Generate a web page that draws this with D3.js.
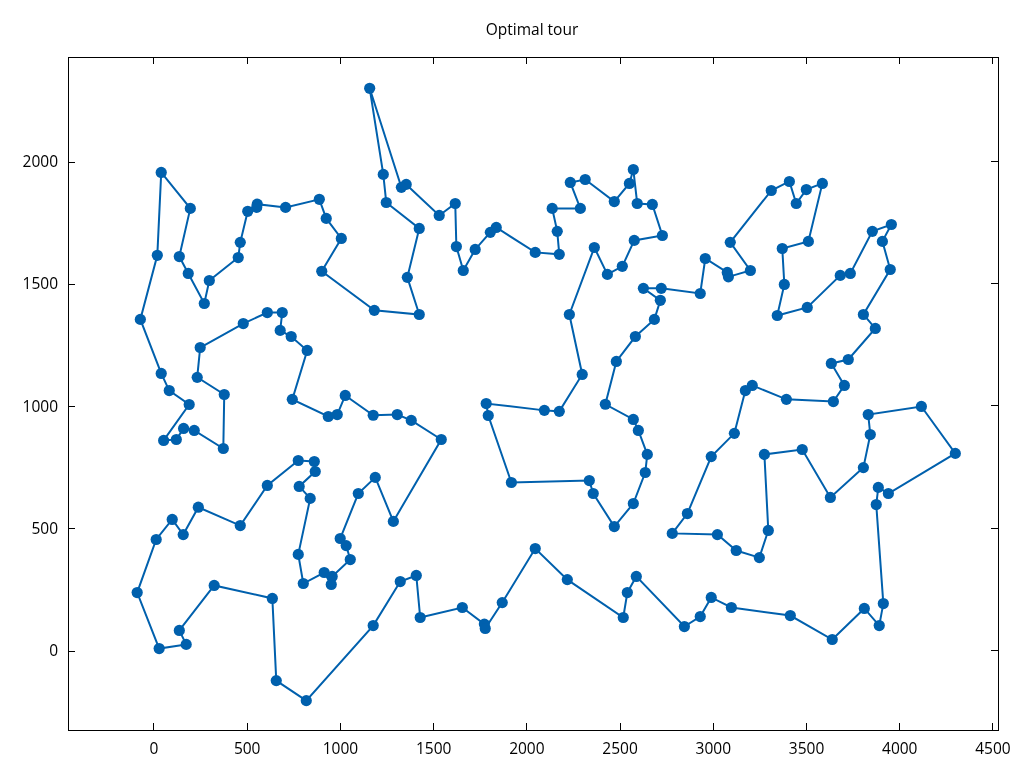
<!DOCTYPE html>
<html>
<head>
<meta charset="utf-8">
<script src="https://d3js.org/d3.v7.min.js"></script>
<style>
    html, body { margin: 0; padding: 0; background: #fff; }
    svg { will-change: transform; }
    text { font-family: "Open Sans", sans-serif; font-weight: 400; font-size: 15.5px; fill: #000; }
</style>
</head>
<body>
<div id="chart"></div>
<script>
const chartTitle = "Optimal tour";
const xTicks = [0, 500, 1000, 1500, 2000, 2500, 3000, 3500, 4000, 4500];
const yTicks = [0, 500, 1000, 1500, 2000];

// city coordinates, in visiting order
const tourX = [1157, 1230, 1246, 1423, 1359, 1423, 1182, 900, 1005, 924,
    887, 706, 554, 551, 503, 463, 452, 297, 270, 184,
    136, 195, 39, 18, -73, 39, 82, 189, 52, 120,
    159, 216, 372, 377, 232, 248, 479, 608, 688, 677,
    736, 822, 742, 935, 983, 1026, 1176, 1305, 1380, 1541,
    1284, 1187, 1096, 999, 1031, 1053, 956, 951, 913, 801,
    774, 838, 779, 865, 860, 774, 608, 463, 238, 157,
    98, 12, -90, 28, 173, 136, 323, 635, 656, 817,
    1176, 1321, 1407, 1428, 1654, 1772, 1777, 1868, 2045, 2217,
    2517, 2539, 2587, 2845, 2930, 2989, 3097, 3413, 3638, 3810,
    3890, 3912, 3874, 3885, 3939, 4298, 4116, 3831, 3842, 3805,
    3628, 3477, 3274, 3295, 3247, 3123, 3022, 2780, 2861, 2989,
    3113, 3172, 3209, 3392, 3644, 3703, 3633, 3724, 3869, 3805,
    3949, 3907, 3955, 3853, 3735, 3681, 3504, 3343, 3381, 3370,
    3510, 3585, 3499, 3445, 3408, 3311, 3091, 3199, 3081, 3075,
    2957, 2930, 2721, 2625, 2716, 2684, 2582, 2480, 2421, 2571,
    2598, 2646, 2635, 2571, 2469, 2356, 2335, 1917, 1793, 1782,
    2094, 2174, 2297, 2228, 2362, 2432, 2512, 2576, 2727, 2673,
    2592, 2571, 2550, 2469, 2313, 2233, 2287, 2136, 2163, 2174,
    2045, 1836, 1804, 1723, 1659, 1622, 1616, 1530, 1353, 1327];
const tourY = [2299, 1947, 1832, 1726, 1526, 1374, 1391, 1551, 1685, 1767,
    1845, 1812, 1825, 1812, 1796, 1669, 1607, 1513, 1419, 1542,
    1611, 1808, 1955, 1616, 1354, 1133, 1063, 1006, 859, 863,
    908, 900, 826, 1047, 1117, 1239, 1337, 1382, 1382, 1309,
    1284, 1227, 1027, 957, 965, 1043, 962, 965, 941, 863,
    528, 708, 642, 458, 429, 372, 303, 270, 319, 274,
    393, 622, 671, 732, 773, 777, 675, 511, 586, 474,
    536, 454, 237, 8, 25, 82, 266, 213, -123, -205,
    102, 282, 307, 135, 176, 108, 90, 196, 417, 290,
    135, 237, 303, 98, 139, 217, 176, 143, 45, 172,
    102, 192, 597, 667, 642, 806, 998, 965, 883, 748,
    626, 822, 802, 491, 380, 409, 474, 479, 560, 793,
    888, 1063, 1084, 1027, 1018, 1084, 1174, 1190, 1317, 1374,
    1558, 1673, 1742, 1714, 1542, 1534, 1403, 1370, 1497, 1644,
    1673, 1910, 1885, 1828, 1918, 1881, 1669, 1554, 1528, 1546,
    1603, 1460, 1481, 1481, 1432, 1354, 1284, 1182, 1007, 945,
    900, 802, 728, 601, 507, 642, 695, 687, 961, 1010,
    982, 978, 1129, 1374, 1648, 1538, 1571, 1677, 1697, 1824,
    1828, 1967, 1910, 1836, 1926, 1914, 1808, 1808, 1714, 1620,
    1628, 1730, 1710, 1640, 1554, 1652, 1828, 1779, 1906, 1894];

const width = 1024;
const height = 768;
const margin = { top: 57, right: 26, bottom: 38, left: 68 };
const color = "#0060ad";

const svg = d3.select("#chart")
    .append("svg")
    .attr("width", width)
    .attr("height", height)
    .style("display", "block");

const xScale = d3.scaleLinear()
    .domain([-461, 4527])
    .range([margin.left, width - margin.right]);
const yScale = d3.scaleLinear()
    .domain([-325, 2427])
    .range([height - margin.bottom, margin.top]);

const tour = tourX.map((x, i) => [x, tourY[i]]);
const line = d3.line()
    .x(d => xScale(d[0]))
    .y(d => yScale(d[1]))
    .curve(d3.curveLinearClosed);

svg.append("path")
    .datum(tour)
    .attr("d", line)
    .attr("fill", "none")
    .attr("stroke", color)
    .attr("stroke-width", 2);

svg.selectAll("circle")
    .data(tour)
    .enter()
    .append("circle")
    .attr("r", 5.6)
    .attr("cx", d => xScale(d[0]))
    .attr("cy", d => yScale(d[1]))
    .attr("fill", color);

// ticks point inward on all four sides, only bottom and left are labelled
const axes = [
    { g: d3.axisBottom(xScale).tickValues(xTicks).tickFormat(d3.format("d")).tickPadding(13), y: height - margin.bottom, x: 0 },
    { g: d3.axisTop(xScale).tickValues(xTicks).tickFormat(""), y: margin.top, x: 0 },
    { g: d3.axisLeft(yScale).tickValues(yTicks).tickFormat(d3.format("d")).tickPadding(10), y: 0.7, x: margin.left },
    { g: d3.axisRight(yScale).tickValues(yTicks).tickFormat(""), y: 0, x: width - margin.right }
];
axes.forEach(a => {
    const g = svg.append("g")
        .attr("transform", "translate(" + a.x + "," + a.y + ")")
        .call(a.g.tickSizeInner(-7).tickSizeOuter(0).offset(0));
    g.select(".domain").remove();
    g.selectAll("line").attr("stroke", "#000").attr("shape-rendering", "crispEdges");
    g.selectAll("text").style("font-family", '"Open Sans", sans-serif').style("font-size", "15.5px").attr("fill", "#000");
});

// plot frame
svg.append("rect")
    .attr("x", margin.left + 0.5)
    .attr("y", margin.top + 0.5)
    .attr("width", width - margin.left - margin.right)
    .attr("height", height - margin.top - margin.bottom)
    .attr("fill", "none")
    .attr("stroke", "#000");

svg.append("text")
    .attr("x", 532)
    .attr("y", 35)
    .attr("text-anchor", "middle")
    .text(chartTitle);
</script>
</body>
</html>
